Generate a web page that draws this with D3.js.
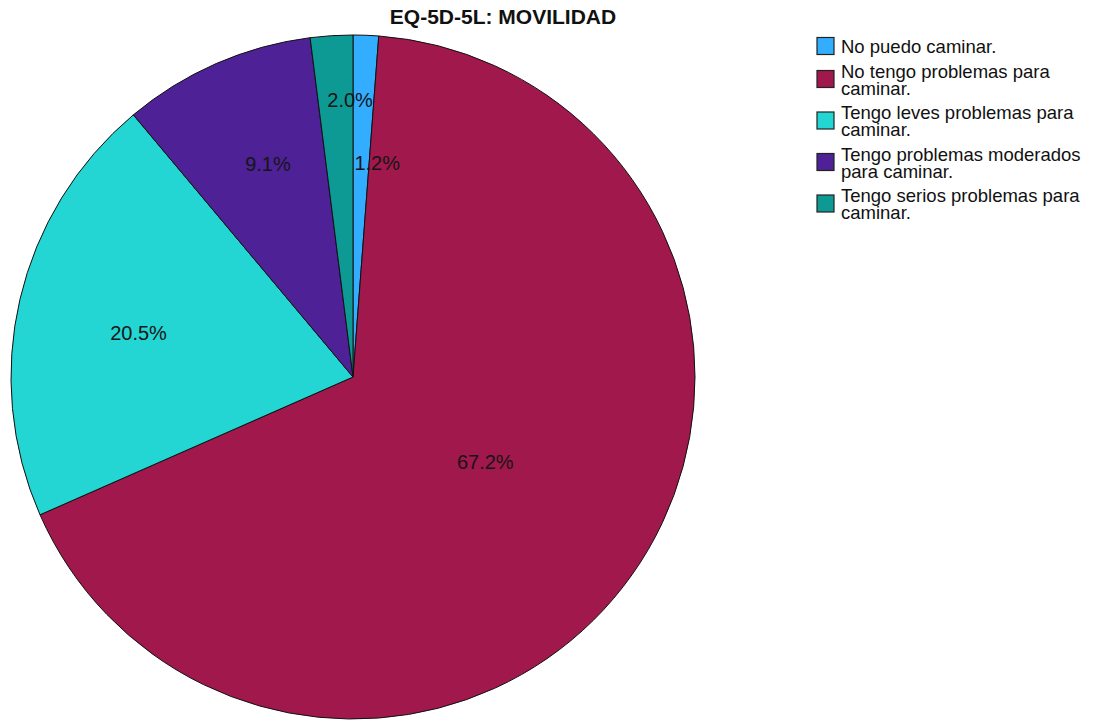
<!DOCTYPE html>
<html>
<head>
<meta charset="utf-8">
<script src="https://cdn.jsdelivr.net/npm/d3@7"></script>
<style>
  html, body { margin: 0; padding: 0; background: #fff; }
  svg { display: block; }
  text { font-family: "Liberation Sans", Arial, sans-serif; }
</style>
</head>
<body>
<svg id="chart" width="1094" height="721"></svg>
<script>
// Mobility dimension of the EQ-5D-5L questionnaire (percent of respondents)
const categories = [
  "No puedo caminar.",
  "No tengo problemas para caminar.",
  "Tengo leves problemas para caminar.",
  "Tengo problemas moderados para caminar.",
  "Tengo serios problemas para caminar."
];
const percentages = [1.2, 67.2, 20.5, 9.1, 2.0];
const sliceColors = ["#33adff", "#a1184c", "#23d6d3", "#4f2196", "#0e9a94"];
const chartTitle = "EQ-5D-5L: MOVILIDAD";

// Label placement per slice: fraction of radius, angular nudge in degrees
const labelPlacement = [
  { r: 0.63, nudge: 4.3 },
  { r: 0.46, nudge: -2.5 },
  { r: 0.64, nudge: -1.6 },
  { r: 0.67, nudge: 1.8 },
  { r: 0.81, nudge: 3.0 }
];

const svg = d3.select("#chart");
const cx = 353, cy = 377, radius = 342;

const data = categories.map((c, i) => ({ category: c, value: percentages[i], idx: i }));

const color = d3.scaleOrdinal().domain(categories).range(sliceColors);

const pie = d3.pie().value(d => d.value).sort(null);
const arcs = pie(data);
const arc = d3.arc().innerRadius(0).outerRadius(radius);

const g = svg.append("g").attr("transform", `translate(${cx},${cy})`);

g.selectAll("path.slice")
  .data(arcs)
  .join("path")
  .attr("class", "slice")
  .attr("d", arc)
  .attr("fill", d => color(d.data.category))
  .attr("stroke", "#111")
  .attr("stroke-width", 1)
  .attr("stroke-linejoin", "round");

// Percent labels
g.selectAll("text.pct")
  .data(arcs)
  .join("text")
  .attr("class", "pct")
  .attr("transform", d => {
    const p = labelPlacement[d.data.idx];
    const a = (d.startAngle + d.endAngle) / 2 + p.nudge * Math.PI / 180;
    const rr = radius * p.r;
    return `translate(${rr * Math.sin(a)},${-rr * Math.cos(a)})`;
  })
  .attr("text-anchor", "middle")
  .attr("dy", "0.36em")
  .attr("font-size", 20)
  .attr("fill", "#151515")
  .text(d => d3.format(".1f")(d.data.value) + "%");

// Title
svg.append("text")
  .attr("x", 503)
  .attr("y", 24)
  .attr("text-anchor", "middle")
  .attr("font-size", 21)
  .attr("font-weight", "bold")
  .attr("fill", "#111")
  .text(chartTitle);

// Legend with word-wrapped entries
const legend = svg.append("g").attr("class", "legend");
const legendX = 817, textX = 841, maxTextWidth = 255;
const lineH = 17, entryGap = 7.5, fontSize = 18.5;

const measurer = svg.append("text").attr("font-size", fontSize).attr("visibility", "hidden");
function wrap(str) {
  const words = str.split(" ");
  const lines = [];
  let cur = "";
  words.forEach(w => {
    const test = cur ? cur + " " + w : w;
    measurer.text(test);
    if (cur && measurer.node().getComputedTextLength() > maxTextWidth) {
      lines.push(cur);
      cur = w;
    } else {
      cur = test;
    }
  });
  if (cur) lines.push(cur);
  return lines;
}

let baseline = 53;
categories.forEach((c, i) => {
  const lines = wrap(c);
  const item = legend.append("g");
  const firstBase = baseline;
  const lastBase = baseline + (lines.length - 1) * lineH;
  const mid = (firstBase + lastBase) / 2 - 6.5;
  item.append("rect")
    .attr("x", legendX)
    .attr("y", mid - 9)
    .attr("width", 17)
    .attr("height", 17)
    .attr("fill", color(c))
    .attr("stroke", "#222")
    .attr("stroke-width", 1.2);
  const t = item.append("text")
    .attr("font-size", fontSize)
    .attr("fill", "#111");
  lines.forEach((ln, k) => {
    t.append("tspan")
      .attr("x", textX)
      .attr("y", firstBase + k * lineH)
      .text(ln);
  });
  baseline = lastBase + lineH + entryGap;
});
measurer.remove();
</script>
</body>
</html>
